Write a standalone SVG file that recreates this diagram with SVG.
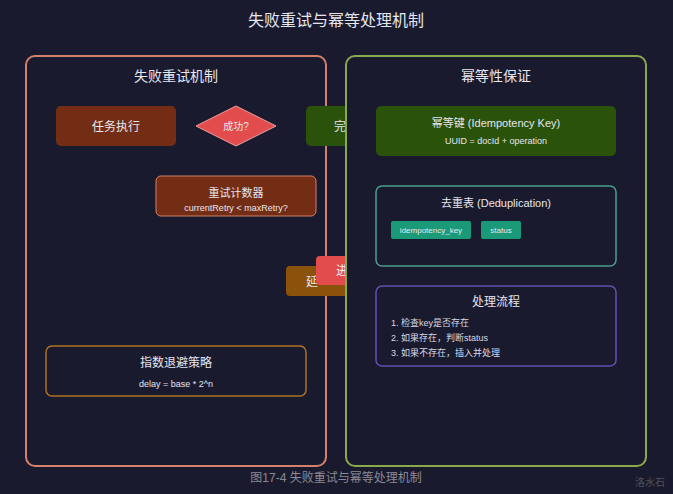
<svg xmlns="http://www.w3.org/2000/svg" width="673" height="494" viewBox="0 0 673 494">
<style>
text{font-family:"Liberation Sans","Noto Sans CJK SC",sans-serif;}
.t{fill:#e6e6ee;text-anchor:middle;}
.s{fill:#d8d8e4;}
.panel{fill:#1a1a2e;stroke-width:2;}
</style>
<rect width="673" height="494" fill="#1a1a2e"/>
<text class="t" x="336" y="26" font-size="16">失败重试与幂等处理机制</text>

<g id="retry-panel">
<rect class="panel" x="26" y="56" width="300" height="410" rx="9" stroke="#d4806a"/>
<text class="t" x="176" y="81" font-size="14">失败重试机制</text>
</g>
<g id="task">
<rect x="56" y="106" width="120" height="40" rx="5" fill="#732d14"/>
<text class="t" x="116" y="131" font-size="12">任务执行</text>
</g>
<g id="success">
<polygon points="236,106 276,126 236,146 196,126" fill="#e24c4c" stroke="#f0a0a0" stroke-width="1"/>
<text class="t" x="236" y="129.5" font-size="10">成功?</text>
</g>
<g id="done">
<rect x="306" y="106" width="80" height="40" rx="5" fill="#2a520a"/>
<text x="334" y="131" font-size="12" fill="#e6e6ee">完</text>
</g>
<g id="counter">
<rect x="156" y="176" width="160" height="40" rx="5" fill="#732d14" stroke="#d4806a" stroke-width="1"/>
<text class="t" x="236" y="197" font-size="11">重试计数器</text>
<text class="t" x="236" y="211" font-size="9" fill="#e0c8c0">currentRetry &lt; maxRetry?</text>
</g>
<g id="delay">
<rect x="286" y="266" width="80" height="30" rx="4" fill="#8a520a"/>
<text x="306" y="286" font-size="12" fill="#e6e6ee">延</text>
</g>
<g id="enter">
<rect x="316" y="256" width="60" height="29" rx="4" fill="#e24c4c"/>
<text x="336" y="275" font-size="12" fill="#f4f4f8">进</text>
</g>
<g id="backoff">
<rect x="46" y="346" width="260" height="50" rx="6" fill="#1a1a2e" stroke="#b07020" stroke-width="1.5"/>
<text class="t" x="176" y="367" font-size="12">指数退避策略</text>
<text class="t" x="176" y="387" font-size="9" fill="#e0a868">delay = base * 2^n</text>
</g>

<g id="idem-panel">
<rect class="panel" x="346" y="56" width="300" height="410" rx="9" stroke="#88aa4a"/>
<text class="t" x="496" y="81" font-size="14">幂等性保证</text>
</g>
<g id="idem-key">
<rect x="376" y="106" width="240" height="50" rx="5" fill="#2a520a"/>
<text class="t" x="496" y="127" font-size="11">幂等键 (Idempotency Key)</text>
<text class="t" x="496" y="144" font-size="9" fill="#c8d8b8">UUID = docId + operation</text>
</g>
<g id="dedup">
<rect x="376" y="186" width="240" height="80" rx="6" fill="#1a1a2e" stroke="#4a9e8a" stroke-width="1.5"/>
<text class="t" x="496" y="207" font-size="11">去重表 (Deduplication)</text>
<rect x="391" y="221" width="80" height="18" rx="2" fill="#1a9a78"/>
<text class="t" x="431" y="233" font-size="8" fill="#f0f0f0">idempotency_key</text>
<rect x="481" y="221" width="40" height="18" rx="2" fill="#1a9a78"/>
<text class="t" x="501" y="233" font-size="8" fill="#f0f0f0">status</text>
</g>
<g id="process">
<rect x="376" y="286" width="240" height="80" rx="6" fill="#1a1a2e" stroke="#6050b0" stroke-width="1.5"/>
<text class="t" x="496" y="306" font-size="12">处理流程</text>
<text class="s" x="391" y="326" font-size="9">1. 检查key是否存在</text>
<text class="s" x="391" y="341" font-size="9">2. 如果存在，判断status</text>
<text class="s" x="391" y="356" font-size="9">3. 如果不存在，插入并处理</text>
</g>
<g id="connectors"></g>
<text x="336" y="482" font-size="12" fill="#8a8a96" text-anchor="middle">图17-4 失败重试与幂等处理机制</text>
<text x="665" y="486" font-size="10" fill="#50505e" text-anchor="end">洛水石</text>
</svg>
